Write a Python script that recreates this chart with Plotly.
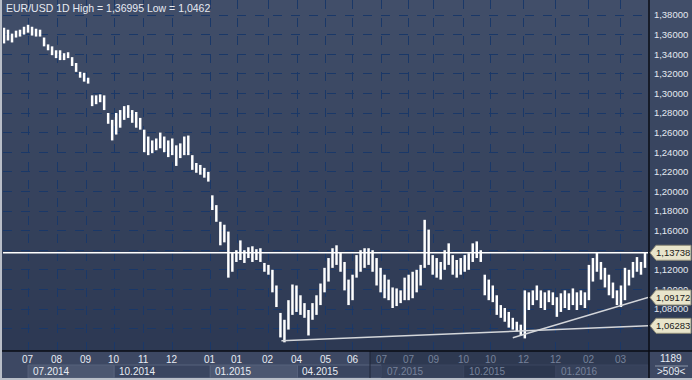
import plotly.graph_objects as go

TITLE = "EUR/USD 1D High = 1,36995 Low = 1,0462"

HIGH = [1.367, 1.365, 1.361, 1.364, 1.365, 1.368, 1.370, 1.368, 1.366, 1.365,
        1.357, 1.350, 1.348, 1.344, 1.344, 1.341, 1.342, 1.337, 1.331, 1.322,
        1.321, 1.316, 1.298, 1.298, 1.299, 1.298, 1.280, 1.273, 1.280, 1.283,
        1.287, 1.288, 1.283, 1.281, 1.275, 1.263, 1.256, 1.252, 1.254, 1.260,
        1.256, 1.252, 1.254, 1.247, 1.249, 1.256, 1.257, 1.237, 1.229, 1.227,
        1.224, 1.220, 1.196, 1.186, 1.169, 1.166, 1.159, 1.138, 1.140, 1.150,
        1.140, 1.143, 1.144, 1.141, 1.142, 1.127, 1.125, 1.120, 1.104, 1.076,
        1.069, 1.089, 1.105, 1.104, 1.094, 1.086, 1.079, 1.086, 1.094, 1.106,
        1.122, 1.132, 1.142, 1.145, 1.138, 1.128, 1.110, 1.115, 1.135, 1.140,
        1.142, 1.142, 1.140, 1.132, 1.122, 1.115, 1.110, 1.102, 1.101, 1.099,
        1.112, 1.115, 1.118, 1.120, 1.125, 1.171, 1.161, 1.135, 1.132, 1.128,
        1.140, 1.147, 1.135, 1.130, 1.132, 1.135, 1.137, 1.147, 1.149, 1.140,
        1.115, 1.110, 1.104, 1.094, 1.084, 1.081, 1.077, 1.071, 1.067, 1.064,
        1.099, 1.097, 1.099, 1.104, 1.099, 1.097, 1.099, 1.097, 1.092, 1.096,
        1.099, 1.096, 1.101, 1.097, 1.099, 1.097, 1.125, 1.132, 1.138, 1.128,
        1.122, 1.115, 1.107, 1.099, 1.104, 1.122, 1.120, 1.128, 1.133, 1.128,
        1.138]

LOW = [1.351, 1.354, 1.352, 1.357, 1.358, 1.360, 1.362, 1.359, 1.358, 1.358,
       1.348, 1.344, 1.339, 1.336, 1.334, 1.334, 1.336, 1.328, 1.322, 1.316,
       1.312, 1.310, 1.287, 1.289, 1.291, 1.283, 1.269, 1.252, 1.258, 1.265,
       1.273, 1.275, 1.270, 1.265, 1.263, 1.240, 1.237, 1.239, 1.242, 1.244,
       1.240, 1.235, 1.237, 1.226, 1.234, 1.237, 1.237, 1.222, 1.219, 1.217,
       1.214, 1.210, 1.181, 1.169, 1.145, 1.148, 1.112, 1.118, 1.128, 1.130,
       1.127, 1.132, 1.128, 1.130, 1.128, 1.118, 1.115, 1.097, 1.082, 1.051,
       1.046, 1.059, 1.074, 1.077, 1.074, 1.071, 1.053, 1.069, 1.074, 1.084,
       1.097, 1.108, 1.122, 1.125, 1.118, 1.099, 1.084, 1.089, 1.112, 1.118,
       1.122, 1.125, 1.118, 1.104, 1.097, 1.091, 1.089, 1.081, 1.083, 1.086,
       1.089, 1.089, 1.091, 1.097, 1.104, 1.122, 1.125, 1.115, 1.112, 1.110,
       1.120, 1.125, 1.115, 1.112, 1.115, 1.118, 1.120, 1.128, 1.132, 1.128,
       1.094, 1.089, 1.087, 1.074, 1.071, 1.067, 1.061, 1.059, 1.057, 1.053,
       1.050, 1.079, 1.084, 1.089, 1.081, 1.079, 1.087, 1.084, 1.072, 1.077,
       1.081, 1.079, 1.084, 1.079, 1.084, 1.081, 1.089, 1.108, 1.118, 1.110,
       1.102, 1.094, 1.091, 1.084, 1.082, 1.089, 1.104, 1.112, 1.118, 1.115,
       1.122]

MONTH_LABELS = ["07", "08", "09", "10", "11", "12", "01", "01", "02", "04", "05",
                "06", "07", "07", "09", "10", "10", "12", "12", "02", "03"]
MONTH_POS = [6, 13.25, 20.5, 27.5, 34.75, 42, 51.5, 58.25, 66, 73.25, 80.25,
             87, 94.25, 101, 107.25, 114.75, 121.5, 129.75, 137.75, 146, 154]
PERIOD_LABELS = ["07.2014", "10.2014", "01.2015", "04.2015", "07.2015", "10.2015", "01.2016"]
PERIOD_POS = [6, 27.5, 51.5, 73.25, 94.25, 114.75, 137.75]

PRICE_TICKS = [round(1.06 + 0.02 * i, 2) for i in range(17)]
HIDDEN_TICKS = [1.06, 1.14]
LEVEL = 1.13738
TREND1_X, TREND1_Y = [69.25, 160.75], [1.0477, 1.06283]
TREND2_X, TREND2_Y = [127, 160.75], [1.0507, 1.09172]
TAGS = [1.13738, 1.09172, 1.06283]
BAR_COUNT_TEXT = "1189"
VISIBLE_TEXT = ">509<"

W, H = 692, 380
ML, MR, MT, MB = 3, 44, 0, 29
PW, PH = W - ML - MR, H - MT - MB
X_RANGE = [-0.25, len(HIGH) - 0.25]
Y_RANGE = [1.03714, 1.39531]
FONT = "Liberation Sans"


def fx(px):
    return (px - ML) / PW


def fy(py):
    return (PH - py) / PH


def ix(idx):
    # data index -> pixel
    return ML + (idx - X_RANGE[0]) / (X_RANGE[1] - X_RANGE[0]) * PW


def fmt(v, d=5):
    return f"{v:.{d}f}".replace(".", ",")


idx = list(range(len(HIGH)))
fig = go.Figure()
fig.add_trace(go.Bar(x=idx, base=LOW, y=[h - l for h, l in zip(HIGH, LOW)],
                     width=0.62, marker=dict(color="#ffffff", line_width=0),
                     hoverinfo="skip"))

shapes = []
# background gradient
top, bot = (65, 78, 105), (43, 55, 81)
n = 38
for i in range(n):
    t = i / (n - 1)
    c = tuple(round(top[k] + (bot[k] - top[k]) * t) for k in range(3))
    shapes.append(dict(type="rect", xref="paper", yref="paper", layer="below",
                       x0=fx(0), x1=fx(W), y0=fy(i * 10 + 10.5), y1=fy(i * 10),
                       fillcolor=f"rgb{c}", line_width=0))

# bottom axis band
shapes.append(dict(type="rect", xref="paper", yref="paper", layer="above",
                   x0=fx(0), x1=fx(370), y0=fy(378), y1=fy(351), fillcolor="#3d4863", line_width=0))
shapes.append(dict(type="rect", xref="paper", yref="paper", layer="above",
                   x0=fx(370), x1=fx(649), y0=fy(378), y1=fy(351), fillcolor="#2e3951", line_width=0))
ends = PERIOD_POS[1:] + [X_RANGE[1]]
for k, (s, e) in enumerate(zip(PERIOD_POS, ends)):
    bright = ix(s) < 370
    if bright:
        col = "#4c5771" if k % 2 == 0 else "#3a4560"
    else:
        col = "#36415a" if k % 2 == 0 else "#2c374f"
    shapes.append(dict(type="rect", xref="paper", yref="paper", layer="above",
                       x0=fx(ix(s)), x1=fx(min(ix(e), 648)), y0=fy(378), y1=fy(365),
                       fillcolor=col, line=dict(color="#56627c" if bright else "#3a4660", width=1)))
shapes.append(dict(type="line", xref="paper", yref="paper", layer="above",
                   x0=fx(370), x1=fx(370), y0=fy(378), y1=fy(351), line=dict(color="#1e2638", width=1)))
# right bottom box
shapes.append(dict(type="rect", xref="paper", yref="paper", layer="above",
                   x0=fx(649), x1=fx(692), y0=fy(378), y1=fy(351), fillcolor="#3d4863", line_width=0))
shapes.append(dict(type="line", xref="paper", yref="paper", layer="above",
                   x0=fx(655), x1=fx(688), y0=fy(366), y1=fy(366), line=dict(color="#8a94a8", width=1)))
# separators
shapes.append(dict(type="line", xref="paper", yref="paper", layer="above",
                   x0=fx(0), x1=fx(692), y0=fy(351), y1=fy(351), line=dict(color="#0a0d14", width=1.5)))
shapes.append(dict(type="line", xref="paper", yref="paper", layer="above",
                   x0=fx(649), x1=fx(649), y0=fy(0), y1=fy(378), line=dict(color="#0a0d14", width=1.5)))
# frame
shapes.append(dict(type="rect", xref="paper", yref="paper", layer="above",
                   x0=fx(0), x1=fx(2), y0=fy(380), y1=fy(0), fillcolor="#b9bec8", line_width=0))
shapes.append(dict(type="rect", xref="paper", yref="paper", layer="above",
                   x0=fx(0), x1=fx(692), y0=fy(380), y1=fy(378), fillcolor="#b9bec8", line_width=0))

# level & trend lines
shapes.append(dict(type="line", xref="x", yref="y", x0=X_RANGE[0], x1=X_RANGE[1], y0=LEVEL, y1=LEVEL,
                   line=dict(color="#ffffff", width=1.5)))
shapes.append(dict(type="line", xref="x", yref="y", x0=TREND1_X[0], x1=TREND1_X[1],
                   y0=TREND1_Y[0], y1=TREND1_Y[1], line=dict(color="#d4d6da", width=1.5)))
shapes.append(dict(type="line", xref="x", yref="y", x0=TREND2_X[0], x1=TREND2_X[1],
                   y0=TREND2_Y[0], y1=TREND2_Y[1], line=dict(color="#d4d6da", width=1.5)))

# price tags
hh = 7.5 / PH * (Y_RANGE[1] - Y_RANGE[0])
annotations = []
for p in TAGS:
    xa, xb, xc = fx(650), fx(656), fx(691)
    shapes.append(dict(type="path", xref="paper", yref="y", layer="above",
                       path=f"M {xa},{p} L {xb},{p + hh} L {xc},{p + hh} L {xc},{p - hh} L {xb},{p - hh} Z",
                       fillcolor="#e8e4cb", line=dict(color="#8f8c78", width=1)))
    annotations.append(dict(xref="paper", yref="y", x=fx(673), y=p, text=fmt(p), showarrow=False,
                            xanchor="center", yanchor="middle",
                            font=dict(family=FONT, size=9.5, color="#1a1a1a")))

# title
annotations.append(dict(xref="paper", yref="paper", x=fx(4), y=fy(8), text=TITLE, showarrow=False,
                        xanchor="left", yanchor="middle",
                        font=dict(family=FONT, size=10.5, color="#e6eaf2")))
# month labels
for lab, pos in zip(MONTH_LABELS, MONTH_POS):
    bright = ix(pos) < 370
    annotations.append(dict(xref="paper", yref="paper", x=fx(ix(pos)), y=fy(359), text=lab, showarrow=False,
                            xanchor="center", yanchor="middle",
                            font=dict(family=FONT, size=10,
                                      color="#e8ecf3" if bright else "#76829a")))
for lab, pos in zip(PERIOD_LABELS, PERIOD_POS):
    bright = ix(pos) < 370
    annotations.append(dict(xref="paper", yref="paper", x=fx(ix(pos) + 3), y=fy(371.5), text=lab,
                            showarrow=False, xanchor="left", yanchor="middle",
                            font=dict(family=FONT, size=10,
                                      color="#e8ecf3" if bright else "#76829a")))
annotations.append(dict(xref="paper", yref="paper", x=fx(671), y=fy(358.5), text=BAR_COUNT_TEXT,
                        showarrow=False, xanchor="center", yanchor="middle",
                        font=dict(family=FONT, size=10, color="#e8ecf3")))
annotations.append(dict(xref="paper", yref="paper", x=fx(671), y=fy(371.5), text=VISIBLE_TEXT,
                        showarrow=False, xanchor="center", yanchor="middle",
                        font=dict(family=FONT, size=10, color="#e8ecf3")))

ticktext = ["" if any(abs(v - hv) < 1e-9 for hv in HIDDEN_TICKS) else fmt(v) for v in PRICE_TICKS]

fig.update_layout(
    width=W, height=H,
    margin=dict(l=ML, r=MR, t=MT, b=MB, pad=0),
    paper_bgcolor="#2f3b56",
    plot_bgcolor="rgba(0,0,0,0)",
    showlegend=False,
    shapes=shapes,
    annotations=annotations,
    xaxis=dict(range=X_RANGE, showticklabels=False, ticks="", tickvals=MONTH_POS,
               showgrid=True, gridcolor="#1a3868", griddash="dash", gridwidth=1,
               zeroline=False, showline=False, fixedrange=True),
    yaxis=dict(range=Y_RANGE, side="right", tickvals=PRICE_TICKS, ticktext=ticktext,
               ticks="outside", ticklen=3, tickcolor="rgba(0,0,0,0)",
               tickfont=dict(family=FONT, size=9.5, color="#e4e8f0"),
               showgrid=True, gridcolor="#1a3868", griddash="dash", gridwidth=1,
               zeroline=False, showline=False, fixedrange=True),
)

fig.write_html("out.html", config={"displayModeBar": False, "staticPlot": True},
               post_script="document.body.style.margin='0';document.body.style.overflow='hidden';")
